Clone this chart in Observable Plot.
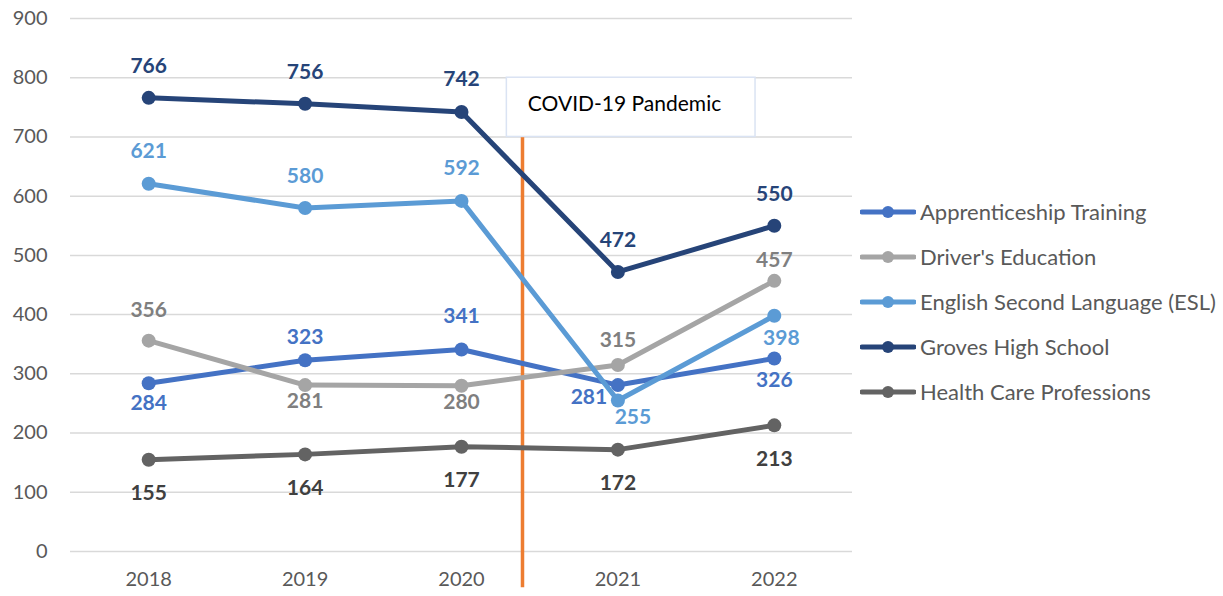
<!DOCTYPE html>
<html>
<head>
<meta charset="utf-8">
<script src="https://cdn.jsdelivr.net/npm/d3@7"></script>
<script src="https://cdn.jsdelivr.net/npm/@observablehq/plot@0.6"></script>
<style>
  body { margin: 0; background: #fff; font-family: Lato, "Open Sans", sans-serif; }
  #wrap { position: relative; width: 1223px; height: 596px; }
  #legend { position: absolute; left: 860px; top: 189px; }
  .item { display: flex; align-items: center; height: 45px; font-size: 22px; color: #595959; white-space: nowrap; }
  .item svg { margin-right: 4px; }
</style>
</head>
<body>
<div id="wrap"><div id="chart"></div><div id="legend"></div></div>
<script>
// ---- data ----
const years = [2018, 2019, 2020, 2021, 2022];
const seriesNames = ["Apprenticeship Training", "Driver's Education", "English Second Language (ESL)", "Groves High School", "Health Care Professions"];
const apprenticeship = [284, 323, 341, 281, 326];
const drivers = [356, 281, 280, 315, 457];
const esl = [621, 580, 592, 255, 398];
const groves = [766, 756, 742, 472, 550];
const health = [155, 164, 177, 172, 213];
const yTicks = [0, 100, 200, 300, 400, 500, 600, 700, 800, 900];
const annotationText = "COVID-19 Pandemic";

// ---- styling / placement ----
const lineColors = ["#4472C4", "#A5A5A5", "#5B9BD5", "#264478", "#636363"];
const labelColors = ["#4472C4", "#7F7F7F", "#5B9BD5", "#264478", "#404040"];
const labelDy = [
  [20, -23, -33, 12, 22],
  [-30, 16, 17, -25, -21],
  [-32, -32, -33, 17, 22],
  [-32, -32, -33, -32, -32],
  [34, 34, 34, 34, 34]
];
const labelDx = [
  [0, 0, 0, -29, 0],
  [0, 0, 0, 0, 0],
  [0, 0, 0, 15, 7],
  [0, 0, 0, 0, 0],
  [0, 0, 0, 0, 0]
];
const covidX = 2020.39;
const boxX1 = 2020.29, boxX2 = 2021.88, boxY1 = 700, boxY2 = 800;

const allValues = [apprenticeship, drivers, esl, groves, health];
const rows = [];
allValues.forEach((vals, si) => vals.forEach((v, i) => rows.push({series: seriesNames[si], si, i, year: years[i], value: v})));

const marks = [
  Plot.gridY(yTicks, {stroke: "#D9D9D9", strokeOpacity: 1, strokeWidth: 1.5}),
  Plot.axisY({ticks: yTicks, tickSize: 0, tickPadding: 23, fontSize: 20, label: null}),
  Plot.axisX({ticks: years, tickFormat: d => String(d), tickSize: 0, tickPadding: 20, fontSize: 20, label: null}),
  Plot.ruleX([covidX], {y1: boxY1, y2: -61, stroke: "#ED7D31", strokeWidth: 3.5}),
  Plot.rect([0], {x1: boxX1, x2: boxX2, y1: boxY1, y2: boxY2, fill: "white", stroke: "#DAE3F3", strokeWidth: 1.5}),
  Plot.text([annotationText], {x: boxX1, y: (boxY1 + boxY2) / 2, text: d => d, dx: 21, dy: -3, textAnchor: "start", fill: "#000", fontSize: 21, lineAnchor: "middle"})
];
seriesNames.forEach((name, si) => {
  const data = rows.filter(r => r.si === si);
  marks.push(Plot.line(data, {x: "year", y: "value", stroke: lineColors[si], strokeWidth: 5}));
  marks.push(Plot.dot(data, {x: "year", y: "value", fill: lineColors[si], r: 7, stroke: "none"}));
});
rows.forEach(r => {
  marks.push(Plot.text([r], {x: "year", y: "value", text: d => String(d.value), dx: labelDx[r.si][r.i], dy: labelDy[r.si][r.i], fill: labelColors[r.si], fontWeight: "bold", fontSize: 21, lineAnchor: "middle", textAnchor: "middle"}));
});

const chart = Plot.plot({
  width: 1223,
  height: 596,
  marginLeft: 70,
  marginRight: 371,
  marginTop: 18,
  marginBottom: 45,
  x: {type: "linear", domain: [2017.5, 2022.5], label: null},
  y: {domain: [0, 900], label: null},
  style: {fontFamily: "Lato, 'Open Sans', sans-serif", fontSize: "20px", color: "#595959", background: "#fff", overflow: "visible"},
  marks
});
document.getElementById("chart").appendChild(chart);

// legend
const legend = document.getElementById("legend");
seriesNames.forEach((name, si) => {
  const item = document.createElement("div");
  item.className = "item";
  item.innerHTML = `<svg width="56" height="14"><line x1="2" x2="54" y1="7" y2="7" stroke="${lineColors[si]}" stroke-width="5" stroke-linecap="round"/><circle cx="28" cy="7" r="6" fill="${lineColors[si]}"/></svg><span>${name}</span>`;
  legend.appendChild(item);
});
</script>
</body>
</html>
